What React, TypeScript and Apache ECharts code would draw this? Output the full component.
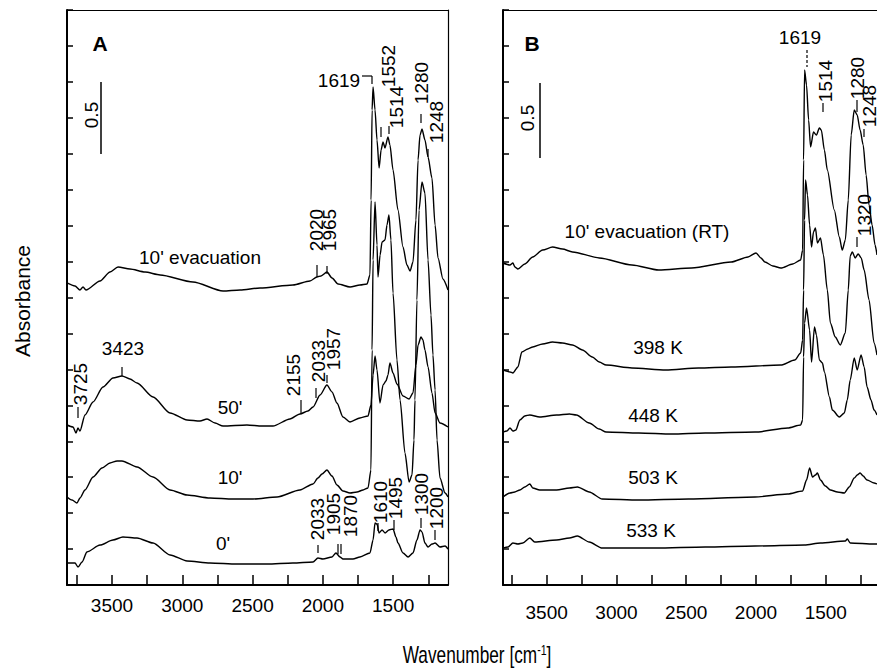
import React, { useEffect, useRef } from "react";
import * as echarts from "echarts";

// ---------- Panel A spectra: [wavenumber (cm-1), absorbance (offset)] ----------
const A_EVAC: [number, number][] = [
  [3820, 2.101], [3763, 2.08], [3728, 2.052], [3706, 2.073], [3685, 2.052], [3585, 2.115], [3514, 2.177],
  [3457, 2.212], [3372, 2.198], [3265, 2.177], [3158, 2.157], [2924, 2.108], [2710, 2.045], [2589, 2.052],
  [2447, 2.066], [2213, 2.087], [2092, 2.115], [2042, 2.143], [2013, 2.15], [1971, 2.177], [1935, 2.136],
  [1892, 2.094], [1807, 2.073], [1736, 2.087], [1686, 2.094], [1665, 2.157], [1657, 2.678], [1650, 3.304],
  [1643, 3.464], [1629, 3.304], [1615, 3.096], [1600, 2.901], [1586, 3.026], [1572, 3.082], [1558, 3.04],
  [1537, 3.117], [1523, 3.061], [1501, 2.887], [1466, 2.609], [1430, 2.351], [1402, 2.226], [1380, 2.184],
  [1359, 2.247], [1338, 2.539], [1323, 2.957], [1309, 3.13], [1295, 3.172], [1274, 3.096], [1252, 2.977],
  [1224, 2.831], [1202, 2.504], [1181, 2.275], [1146, 2.129], [1110, 2.052],
];
const A_50: [number, number][] = [
  [3820, 1.113], [3777, 1.099], [3756, 1.057], [3742, 1.092], [3728, 1.071], [3692, 1.183], [3635, 1.273],
  [3564, 1.377], [3493, 1.44], [3429, 1.454], [3372, 1.433], [3322, 1.405], [3208, 1.308], [3087, 1.197],
  [2966, 1.148], [2874, 1.141], [2824, 1.155], [2767, 1.127], [2710, 1.106], [2540, 1.113], [2433, 1.106],
  [2355, 1.106], [2234, 1.155], [2163, 1.19], [2106, 1.21], [2070, 1.238], [2020, 1.322], [1971, 1.391],
  [1935, 1.343], [1900, 1.266], [1857, 1.169], [1807, 1.134], [1736, 1.162], [1679, 1.176], [1658, 1.252],
  [1643, 1.461], [1629, 1.593], [1615, 1.496], [1594, 1.266], [1572, 1.391], [1551, 1.419], [1537, 1.461],
  [1523, 1.544], [1501, 1.475], [1473, 1.398], [1430, 1.315], [1387, 1.294], [1359, 1.336], [1338, 1.53],
  [1323, 1.67], [1302, 1.725], [1288, 1.704], [1274, 1.635], [1252, 1.517], [1224, 1.336], [1202, 1.197],
  [1167, 1.127], [1110, 1.099],
];
const A_10: [number, number][] = [
  [3820, 0.612], [3784, 0.591], [3749, 0.57], [3728, 0.605], [3692, 0.661], [3635, 0.751], [3571, 0.814],
  [3514, 0.849], [3464, 0.863], [3429, 0.863], [3322, 0.821], [3208, 0.751], [3087, 0.661], [2966, 0.626],
  [2803, 0.605], [2639, 0.598], [2497, 0.598], [2326, 0.612], [2163, 0.661], [2070, 0.703], [2035, 0.744],
  [2006, 0.772], [1971, 0.8], [1935, 0.758], [1900, 0.696], [1857, 0.654], [1807, 0.64], [1757, 0.647],
  [1714, 0.661], [1679, 0.675], [1658, 0.8], [1650, 1.635], [1643, 2.261], [1629, 2.664], [1615, 2.365],
  [1608, 2.143], [1593, 2.296], [1579, 2.386], [1558, 2.4], [1544, 2.504], [1530, 2.574], [1516, 2.4],
  [1501, 2.031], [1473, 1.565], [1451, 1.287], [1416, 0.918], [1387, 0.717], [1366, 0.765], [1352, 1.009],
  [1345, 1.287], [1331, 1.983], [1316, 2.609], [1295, 2.803], [1274, 2.727], [1252, 2.261], [1231, 1.878],
  [1217, 1.6], [1202, 1.357], [1188, 1.009], [1167, 0.744], [1131, 0.64], [1110, 0.612],
];
const A_0: [number, number][] = [
  [3820, 0.153], [3763, 0.153], [3742, 0.125], [3713, 0.16], [3678, 0.23], [3585, 0.278], [3493, 0.313],
  [3422, 0.334], [3322, 0.327], [3208, 0.292], [3087, 0.209], [2966, 0.167], [2803, 0.153], [2611, 0.146],
  [2397, 0.146], [2213, 0.153], [2070, 0.16], [2035, 0.188], [2000, 0.181], [1935, 0.195], [1907, 0.223],
  [1878, 0.195], [1857, 0.181], [1786, 0.181], [1736, 0.195], [1665, 0.223], [1643, 0.313], [1629, 0.431],
  [1615, 0.424], [1600, 0.362], [1579, 0.383], [1558, 0.362], [1530, 0.383], [1501, 0.39], [1480, 0.334],
  [1466, 0.292], [1430, 0.223], [1394, 0.195], [1359, 0.223], [1331, 0.313], [1309, 0.383], [1295, 0.369],
  [1274, 0.292], [1252, 0.264], [1224, 0.285], [1202, 0.292], [1167, 0.264], [1131, 0.271], [1110, 0.25],
];

// ---------- Panel B spectra ----------
const B_EVAC: [number, number][] = [
  [3813, 2.24], [3763, 2.226], [3742, 2.24], [3728, 2.212], [3706, 2.198], [3657, 2.233], [3600, 2.282],
  [3529, 2.33], [3458, 2.351], [3387, 2.337], [3315, 2.317], [3123, 2.275], [2889, 2.226], [2697, 2.191],
  [2462, 2.205], [2178, 2.247], [2057, 2.282], [2000, 2.31], [1965, 2.275], [1936, 2.247], [1879, 2.219],
  [1822, 2.205], [1737, 2.233], [1680, 2.261], [1666, 2.33], [1659, 2.957], [1652, 3.583], [1638, 3.478],
  [1623, 3.235], [1609, 3.047], [1588, 3.151], [1567, 3.13], [1546, 3.179], [1532, 3.165], [1510, 3.026],
  [1489, 2.887], [1439, 2.609], [1403, 2.421], [1382, 2.33], [1360, 2.4], [1339, 2.678], [1318, 3.13],
  [1296, 3.304], [1275, 3.27], [1254, 3.165], [1232, 3.061], [1211, 2.852], [1190, 2.643], [1168, 2.504],
  [1147, 2.365], [1133, 2.296],
];
const B_398: [number, number][] = [
  [3813, 1.496], [3763, 1.482], [3742, 1.475], [3706, 1.517], [3678, 1.621], [3635, 1.642], [3600, 1.656],
  [3529, 1.677], [3458, 1.69], [3387, 1.683], [3315, 1.67], [3244, 1.635], [3173, 1.586], [3123, 1.551],
  [3074, 1.53], [2889, 1.51], [2647, 1.496], [2413, 1.51], [2178, 1.517], [1822, 1.53], [1723, 1.565],
  [1680, 1.614], [1666, 1.704], [1659, 2.052], [1652, 2.539], [1645, 2.817], [1631, 2.713], [1616, 2.504],
  [1602, 2.351], [1588, 2.456], [1574, 2.483], [1560, 2.379], [1538, 2.414], [1517, 2.296], [1489, 2.052],
  [1467, 1.823], [1432, 1.725], [1396, 1.67], [1360, 1.753], [1339, 2.052], [1325, 2.289], [1310, 2.317],
  [1289, 2.275], [1268, 2.303], [1246, 2.275], [1225, 2.191], [1190, 1.983], [1154, 1.683], [1133, 1.6],
];
const B_448: [number, number][] = [
  [3813, 1.064], [3785, 1.071], [3763, 1.092], [3742, 1.071], [3721, 1.078], [3692, 1.148], [3657, 1.176],
  [3621, 1.183], [3550, 1.169], [3429, 1.183], [3337, 1.19], [3287, 1.183], [3195, 1.127], [3123, 1.085],
  [3074, 1.064], [2839, 1.057], [2604, 1.05], [2363, 1.057], [2007, 1.064], [1773, 1.092], [1680, 1.113],
  [1666, 1.148], [1659, 1.586], [1652, 1.823], [1638, 1.927], [1616, 1.774], [1602, 1.551], [1581, 1.795],
  [1567, 1.739], [1546, 1.565], [1524, 1.544], [1510, 1.482], [1474, 1.308], [1453, 1.217], [1403, 1.169],
  [1367, 1.197], [1346, 1.287], [1325, 1.426], [1296, 1.579], [1275, 1.496], [1247, 1.6], [1225, 1.517],
  [1204, 1.377], [1176, 1.287], [1154, 1.217], [1133, 1.183],
];
const B_503: [number, number][] = [
  [3813, 0.612], [3763, 0.64], [3728, 0.647], [3692, 0.661], [3657, 0.682], [3621, 0.703], [3600, 0.675],
  [3550, 0.661], [3429, 0.661], [3337, 0.675], [3280, 0.682], [3195, 0.647], [3102, 0.598], [2839, 0.591],
  [2484, 0.598], [2007, 0.612], [1773, 0.633], [1666, 0.654], [1638, 0.73], [1616, 0.814], [1595, 0.751],
  [1574, 0.765], [1560, 0.779], [1538, 0.73], [1503, 0.689], [1467, 0.661], [1417, 0.647], [1367, 0.64],
  [1332, 0.682], [1296, 0.744], [1275, 0.765], [1254, 0.779], [1232, 0.758], [1204, 0.73], [1154, 0.71],
  [1133, 0.703],
];
const B_533: [number, number][] = [
  [3813, 0.257], [3777, 0.264], [3742, 0.292], [3706, 0.285], [3671, 0.292], [3621, 0.327], [3586, 0.299],
  [3429, 0.313], [3337, 0.327], [3280, 0.341], [3195, 0.299], [3102, 0.257], [2718, 0.257], [2363, 0.264],
  [2007, 0.271], [1652, 0.278], [1538, 0.292], [1360, 0.306], [1346, 0.32], [1325, 0.292], [1154, 0.285],
  [1133, 0.285],
];

// ---------- Axis ticks ----------
const X_TICKS = [3750, 3500, 3250, 3000, 2750, 2500, 2250, 2000, 1750, 1500, 1250];
const X_LABELS = [3500, 3000, 2500, 2000, 1500];
const A_RANGE = [1110, 3820];
const B_RANGE = [1133, 3813];
const Y_RANGE = [0, 4];
const Y_STEP = 0.25;

const FONT = '"Liberation Sans", Arial, sans-serif';

// ---------- Annotation layout (pixel positions) ----------
type Lab = [string, number, number, boolean];
const LABELS: Lab[] = [
  // panel A
  ["1619", 339, 80, false],
  ["1552", 388, 66, true],
  ["1514", 396, 107, true],
  ["1280", 421, 83, true],
  ["1248", 436, 122, true],
  ["2020", 316, 230, true],
  ["1965", 329, 230, true],
  ["10' evacuation", 200, 257, false],
  ["3423", 123, 348, false],
  ["3725", 80, 384, true],
  ["2155", 293, 375, true],
  ["2033", 318, 361, true],
  ["1957", 333, 349, true],
  ["50'", 230, 407, false],
  ["10'", 230, 477, false],
  ["0'", 223, 543, false],
  ["2033", 317, 519, true],
  ["1905", 333, 514, true],
  ["1870", 350, 516, true],
  ["1610", 380, 502, true],
  ["1495", 395, 498, true],
  ["1300", 421, 494, true],
  ["1200", 436, 508, true],
  // panel B
  ["1619", 800, 37, false],
  ["1514", 825, 81, true],
  ["1280", 857, 78, true],
  ["1248", 869, 106, true],
  ["1320", 864, 215, true],
  ["10' evacuation (RT)", 647, 231, false],
  ["398 K", 658, 347, false],
  ["448 K", 653, 415, false],
  ["503 K", 653, 477, false],
  ["533 K", 651, 530, false],
];
type Tk = [number, number, number, number];
const TICKS: Tk[] = [
  [362, 76, 372, 76], [372, 76, 372, 84],
  [381, 127, 381, 137], [389, 126, 389, 134], [421, 114, 421, 123], [428, 149, 428, 157],
  [317, 265, 317, 277], [327, 266, 327, 274],
  [122, 367, 122, 376], [78, 407, 78, 418], [301, 400, 301, 413], [316, 388, 316, 398], [327, 375, 327, 383],
  [318, 545, 318, 553], [338, 544, 338, 554], [341, 544, 341, 554], [378, 523, 378, 531], [394, 520, 394, 530],
  [421, 518, 421, 528], [435, 530, 435, 540],
  [823, 103, 823, 112], [857, 100, 857, 112], [864, 129, 864, 137], [857, 237, 857, 247],
];

function xAxisBottom(grid: number, range: number[], margin: number) {
  return {
    type: "value", gridIndex: grid, position: "bottom", min: range[0], max: range[1], inverse: true,
    axisLine: { show: true, onZero: false, lineStyle: { color: "#000", width: 2 } },
    axisTick: { show: true, inside: true, length: 10, customValues: X_TICKS, lineStyle: { color: "#000", width: 1.5 } },
    axisLabel: {
      show: true, customValues: X_LABELS, color: "#000", fontSize: 19, fontFamily: FONT, margin,
      formatter: (v: number) => String(v),
    },
    splitLine: { show: false },
  };
}
function xAxisTop(grid: number, range: number[]) {
  return {
    type: "value", gridIndex: grid, position: "top", min: range[0], max: range[1], inverse: true,
    axisLine: { show: true, onZero: false, lineStyle: { color: "#000", width: 1.2 } },
    axisTick: { show: false }, axisLabel: { show: false }, splitLine: { show: false },
  };
}
function yAxisLeft(grid: number) {
  return {
    type: "value", gridIndex: grid, position: "left", min: Y_RANGE[0], max: Y_RANGE[1], interval: Y_STEP,
    axisLine: { show: true, onZero: false, lineStyle: { color: "#000", width: 2 } },
    axisTick: { show: true, inside: true, length: 6, lineStyle: { color: "#000", width: 1.5 } },
    axisLabel: { show: false }, splitLine: { show: false },
  };
}

function spectrum(data: [number, number][], axis: number) {
  return {
    type: "line", data, xAxisIndex: axis === 0 ? 0 : 2, yAxisIndex: axis === 0 ? 0 : 2,
    showSymbol: false, symbol: "none", smooth: 0.25, smoothMonotone: "x",
    lineStyle: { color: "#000", width: 1.4 }, silent: true,
  };
}

export default function App() {
  const ref = useRef<HTMLDivElement>(null);
  useEffect(() => {
    if (!ref.current) return;
    const chart = echarts.init(ref.current, undefined, { renderer: "svg" });
    const textEl = (t: string, x: number, y: number, rot: boolean, extra: any = {}, scaleX = 1) => ({
      type: "text", x, y, rotation: rot ? Math.PI / 2 : 0, scaleX, silent: true,
      style: {
        text: t, fill: "#000", fontSize: 19, fontFamily: FONT,
        align: "center", verticalAlign: "middle", textAlign: "center", textVerticalAlign: "middle", ...extra,
      },
    });
    const graphics: any[] = [];
    LABELS.forEach(([t, x, y, r]) => graphics.push(textEl(t, x, y, r)));
    TICKS.forEach(([x1, y1, x2, y2]) =>
      graphics.push({ type: "line", silent: true, shape: { x1, y1, x2, y2 }, style: { stroke: "#000", lineWidth: 1.2 } })
    );
    graphics.push({ type: "line", silent: true, shape: { x1: 807, y1: 50, x2: 807, y2: 67 }, style: { stroke: "#000", lineWidth: 1.2, lineDash: [3, 2] } });
    // scale bars
    graphics.push({ type: "line", silent: true, shape: { x1: 101, y1: 82, x2: 101, y2: 154 }, style: { stroke: "#000", lineWidth: 1.5 } });
    graphics.push({ type: "line", silent: true, shape: { x1: 540, y1: 83, x2: 540, y2: 158 }, style: { stroke: "#000", lineWidth: 1.5 } });
    graphics.push(textEl("0.5", 91, 115, true));
    graphics.push(textEl("0.5", 527, 118, true));
    // panel letters
    graphics.push(textEl("A", 100, 43, false, { fontSize: 21, fontWeight: "bold" }));
    graphics.push(textEl("B", 532, 43, false, { fontSize: 21, fontWeight: "bold" }));
    // axis titles
    graphics.push(textEl("Absorbance", 22, 301, true, { fontSize: 21 }));
    graphics.push({
      type: "text", x: 477, y: 655, scaleX: 0.75, silent: true,
      style: {
        text: "{a|Wavenumber [cm}{s|-1}{a|]}", fill: "#000", fontFamily: FONT,
        align: "center", verticalAlign: "middle", textAlign: "center", textVerticalAlign: "middle",
        rich: {
          a: { fontSize: 23, fontFamily: FONT, fill: "#000" },
          s: { fontSize: 14, fontFamily: FONT, fill: "#000", verticalAlign: "top", padding: [0, 0, 10, 0] },
        },
      },
    });

    chart.setOption({
      animation: false,
      backgroundColor: "#fff",
      grid: [
        { left: 67, top: 10, width: 381, height: 575, containLabel: false },
        { left: 503, top: 10, width: 377, height: 575, containLabel: false },
      ],
      xAxis: [xAxisBottom(0, A_RANGE, 11), xAxisTop(0, A_RANGE), xAxisBottom(1, B_RANGE, 18), xAxisTop(1, B_RANGE)],
      yAxis: [
        yAxisLeft(0),
        {
          type: "value", gridIndex: 0, position: "right", min: Y_RANGE[0], max: Y_RANGE[1],
          axisLine: { show: true, onZero: false, lineStyle: { color: "#000", width: 1.2 } },
          axisTick: { show: false }, axisLabel: { show: false }, splitLine: { show: false },
        },
        yAxisLeft(1),
      ],
      series: [
        spectrum(A_EVAC, 0), spectrum(A_50, 0), spectrum(A_10, 0), spectrum(A_0, 0),
        spectrum(B_EVAC, 1), spectrum(B_398, 1), spectrum(B_448, 1), spectrum(B_503, 1), spectrum(B_533, 1),
      ],
      graphic: graphics,
    });
    return () => chart.dispose();
  }, []);
  return (
    <div
      ref={ref}
      style={{ position: "fixed", left: 0, top: 0, width: 877, height: 671, background: "#fff" }}
    />
  );
}
